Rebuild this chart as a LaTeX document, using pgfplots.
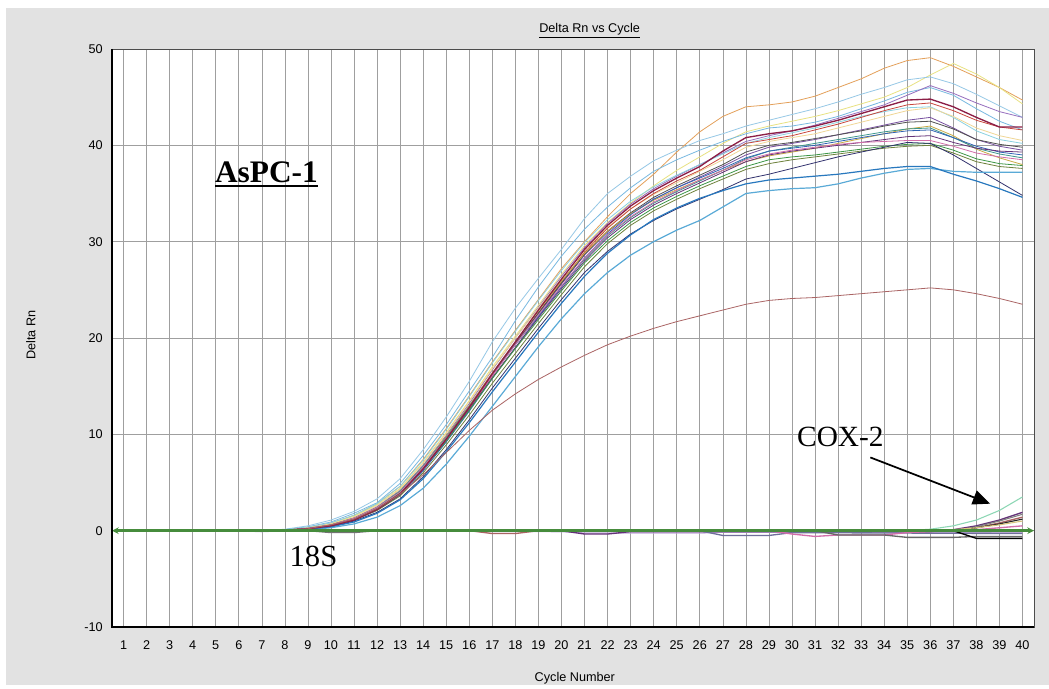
\documentclass[border=0pt]{standalone}
\usepackage{fontspec}
\setmainfont{Liberation Sans}
\newfontfamily\timesf{Liberation Serif}
\usepackage{pgfplots}
\pgfplotsset{compat=1.18}
\usetikzlibrary{arrows.meta, calc, backgrounds}

\definecolor{bg}{RGB}{226,226,226}
\definecolor{cOrange}{RGB}{228,160,90}
\definecolor{cYellow}{RGB}{232,226,130}
\definecolor{cLBlueA}{RGB}{150,200,230}
\definecolor{cLBlueB}{RGB}{120,185,225}
\definecolor{cPurple}{RGB}{150,110,190}
\definecolor{cMaroon}{RGB}{140,30,70}
\definecolor{cRed}{RGB}{200,70,60}
\definecolor{cPale}{RGB}{240,215,150}
\definecolor{cViolet}{RGB}{120,80,160}
\definecolor{cDark}{RGB}{80,80,80}
\definecolor{cTeal}{RGB}{60,150,140}
\definecolor{cBlue}{RGB}{50,100,180}
\definecolor{cDPurple}{RGB}{100,50,120}
\definecolor{cGreen}{RGB}{60,150,70}
\definecolor{cOlive}{RGB}{110,130,60}
\definecolor{cPink}{RGB}{210,110,170}
\definecolor{cNavy}{RGB}{50,50,110}
\definecolor{cSky}{RGB}{90,170,215}
\definecolor{cSteel}{RGB}{40,120,190}
\definecolor{cBrown}{RGB}{170,100,100}
\definecolor{cCyan}{RGB}{140,210,225}
\definecolor{cGold}{RGB}{200,170,70}
\definecolor{cMint}{RGB}{140,215,180}
\definecolor{cThr}{RGB}{70,140,60}

% text with a thick rule under it
\newcommand{\thickul}[1]{\setbox0\hbox{#1}\copy0\llap{\rule[-3.2pt]{\wd0}{1.3pt}}}

\begin{document}
\begin{tikzpicture}
\begin{axis}[
    scale only axis,
    width=691.5pt, height=433.5pt,
    xmin=0.5, xmax=40.5,
    ymin=-10, ymax=50,
    xtick={1,...,40},
    ytick={-10,0,10,20,30,40,50},
    grid=major,
    major grid style={gray!75, line width=0.45pt},
    major tick length=0pt,
    axis line style={black!70, line width=0.6pt},
    axis background/.style={fill=white},
    /pgf/number format/assume math mode=true,
    ticklabel style={font=\fontsize{9.5}{10}\selectfont},
    xticklabel style={yshift=-6.5pt},
    yticklabel style={xshift=-3.5pt},
    title={\underline{Delta Rn vs Cycle}},
    title style={at={(rel axis cs:0.518,1)}, anchor=center, yshift=7.5pt, font=\fontsize{9.5}{10}\selectfont},
    xlabel={Cycle Number},
    xlabel style={at={(axis description cs:0.502,-0.0882)}, anchor=center, font=\fontsize{9.5}{10}\selectfont},
    ylabel={Delta Rn},
    ylabel style={at={(axis description cs:-0.0879,0.505)}, anchor=center, font=\fontsize{9.5}{10}\selectfont},
    clip mode=individual,
    every axis plot/.append style={line width=0.6pt},
]
\coordinate (ll) at (rel axis cs:0,0);
\coordinate (ur) at (rel axis cs:1,1);

% 18S curves
\addplot[cOrange] coordinates {(1,0)(7,0)(8,0.1)(9,0.3)(10,0.8)(11,1.6)(12,2.8)(13,4.6)(14,7.4)(15,10.6)(16,14.0)(17,17.5)(18,20.8)(19,24.0)(20,27.2)(21,30.0)(22,32.6)(23,35.0)(24,37.0)(25,39.3)(26,41.4)(27,43.0)(28,44.0)(29,44.2)(30,44.5)(31,45.1)(32,46.0)(33,46.9)(34,48.0)(35,48.8)(36,49.1)(37,48.2)(38,47.1)(39,46.0)(40,44.7)};
\addplot[cYellow] coordinates {(1,0)(7,0)(8,0.05)(9,0.3)(10,0.7)(11,1.5)(12,2.7)(13,4.4)(14,7.1)(15,10.2)(16,13.5)(17,17.0)(18,20.2)(19,23.4)(20,26.6)(21,29.6)(22,32.0)(23,34.0)(24,35.8)(25,37.4)(26,38.8)(27,40.2)(28,41.4)(29,42.0)(30,42.5)(31,43.0)(32,43.6)(33,44.3)(34,45.0)(35,46.0)(36,47.3)(37,48.5)(38,47.4)(39,46.0)(40,44.3)};
\addplot[cLBlueA] coordinates {(1,0)(7,0)(8,0.15)(9,0.5)(10,1.1)(11,2.0)(12,3.3)(13,5.4)(14,8.4)(15,11.8)(16,15.5)(17,19.6)(18,23.1)(19,26.2)(20,29.2)(21,32.4)(22,35.0)(23,36.8)(24,38.4)(25,39.5)(26,40.5)(27,41.2)(28,42.0)(29,42.6)(30,43.2)(31,43.8)(32,44.5)(33,45.3)(34,46.0)(35,46.8)(36,47.1)(37,46.4)(38,45.3)(39,44.1)(40,42.9)};
\addplot[cLBlueB] coordinates {(1,0)(7,0)(8,0.1)(9,0.4)(10,0.9)(11,1.8)(12,2.9)(13,4.9)(14,7.8)(15,11.0)(16,14.5)(17,18.0)(18,21.8)(19,25.3)(20,28.5)(21,31.3)(22,33.6)(23,35.6)(24,37.3)(25,38.5)(26,39.5)(27,40.4)(28,41.2)(29,41.8)(30,42.0)(31,42.4)(32,43.0)(33,43.8)(34,44.6)(35,45.5)(36,46.0)(37,45.2)(38,43.8)(39,42.5)(40,41.6)};
\addplot[cPurple] coordinates {(1,0)(7,0)(8,0.05)(9,0.25)(10,0.6)(11,1.3)(12,2.5)(13,4.2)(14,6.8)(15,9.9)(16,13.2)(17,16.7)(18,20.0)(19,23.2)(20,26.4)(21,29.4)(22,31.9)(23,33.9)(24,35.5)(25,36.8)(26,38.0)(27,39.2)(28,40.4)(29,41.0)(30,41.5)(31,42.1)(32,42.8)(33,43.5)(34,44.2)(35,45.2)(36,46.2)(37,45.4)(38,44.4)(39,43.5)(40,42.9)};
\addplot[cCyan] coordinates {(1,0)(7,0)(8,0.1)(9,0.35)(10,0.8)(11,1.6)(12,2.8)(13,4.6)(14,7.3)(15,10.5)(16,13.9)(17,17.4)(18,20.7)(19,23.9)(20,27.0)(21,29.9)(22,32.3)(23,34.2)(24,35.7)(25,36.9)(26,38.0)(27,39.1)(28,40.2)(29,40.8)(30,41.3)(31,41.8)(32,42.4)(33,43.0)(34,43.5)(35,43.9)(36,44.0)(37,42.9)(38,41.5)(39,40.6)(40,40.2)};
\addplot[cPale] coordinates {(1,0)(7,0)(8,0.05)(9,0.3)(10,0.7)(11,1.4)(12,2.6)(13,4.3)(14,7.0)(15,10.1)(16,13.4)(17,16.8)(18,20.0)(19,23.1)(20,26.2)(21,29.1)(22,31.5)(23,33.4)(24,34.9)(25,36.1)(26,37.3)(27,38.5)(28,39.8)(29,40.4)(30,40.8)(31,41.2)(32,41.8)(33,42.4)(34,43.0)(35,43.6)(36,43.9)(37,43.0)(38,41.8)(39,41.0)(40,40.5)};
\addplot[cRed] coordinates {(1,0)(7,0)(8,0.05)(9,0.2)(10,0.5)(11,1.2)(12,2.3)(13,3.9)(14,6.5)(15,9.5)(16,12.7)(17,16.1)(18,19.4)(19,22.6)(20,25.8)(21,28.9)(22,31.4)(23,33.4)(24,35.0)(25,36.3)(26,37.4)(27,38.8)(28,40.2)(29,40.6)(30,41.0)(31,41.6)(32,42.2)(33,42.9)(34,43.6)(35,44.2)(36,44.4)(37,43.6)(38,42.6)(39,41.9)(40,41.6)};
\addplot[cViolet] coordinates {(1,0)(7,0)(8,0.05)(9,0.2)(10,0.5)(11,1.2)(12,2.3)(13,3.9)(14,6.5)(15,9.6)(16,12.8)(17,16.2)(18,19.4)(19,22.5)(20,25.6)(21,28.6)(22,31.0)(23,32.9)(24,34.4)(25,35.6)(26,36.7)(27,37.8)(28,39.0)(29,39.8)(30,40.2)(31,40.6)(32,41.1)(33,41.6)(34,42.1)(35,42.6)(36,42.9)(37,41.8)(38,40.6)(39,39.9)(40,39.5)};
\addplot[cDark] coordinates {(1,0)(7,0)(8,0.05)(9,0.2)(10,0.6)(11,1.3)(12,2.4)(13,4.0)(14,6.6)(15,9.6)(16,12.9)(17,16.3)(18,19.5)(19,22.6)(20,25.7)(21,28.7)(22,31.1)(23,33.0)(24,34.6)(25,35.8)(26,36.9)(27,38.0)(28,39.3)(29,40.0)(30,40.3)(31,40.7)(32,41.1)(33,41.5)(34,42.0)(35,42.4)(36,42.5)(37,41.7)(38,40.6)(39,40.1)(40,39.8)};
\addplot[cGold] coordinates {(1,0)(7,0)(8,0.05)(9,0.25)(10,0.6)(11,1.3)(12,2.4)(13,4.1)(14,6.7)(15,9.8)(16,13.0)(17,16.4)(18,19.6)(19,22.8)(20,25.9)(21,28.8)(22,31.1)(23,32.9)(24,34.3)(25,35.4)(26,36.4)(27,37.4)(28,38.3)(29,38.9)(30,39.3)(31,39.7)(32,40.2)(33,40.7)(34,41.2)(35,41.7)(36,42.0)(37,41.0)(38,39.6)(39,38.7)(40,38.0)};
\addplot[cTeal] coordinates {(1,0)(7,0)(8,0.05)(9,0.25)(10,0.6)(11,1.3)(12,2.4)(13,4.1)(14,6.7)(15,9.7)(16,12.9)(17,16.2)(18,19.3)(19,22.3)(20,25.3)(21,28.2)(22,30.6)(23,32.5)(24,34.0)(25,35.2)(26,36.3)(27,37.4)(28,38.6)(29,39.4)(30,39.8)(31,40.2)(32,40.6)(33,41.0)(34,41.4)(35,41.7)(36,41.8)(37,40.8)(38,39.7)(39,39.1)(40,38.7)};
\addplot[cBlue] coordinates {(1,0)(7,0)(8,0.05)(9,0.2)(10,0.5)(11,1.1)(12,2.1)(13,3.7)(14,6.2)(15,9.2)(16,12.4)(17,15.8)(18,19.0)(19,22.2)(20,25.3)(21,28.3)(22,30.8)(23,32.8)(24,34.4)(25,35.6)(26,36.6)(27,37.6)(28,38.7)(29,39.4)(30,39.7)(31,40.0)(32,40.4)(33,40.8)(34,41.2)(35,41.5)(36,41.6)(37,40.8)(38,39.9)(39,39.3)(40,39.0)};
\addplot[cDPurple] coordinates {(1,0)(7,0)(8,0.05)(9,0.2)(10,0.5)(11,1.2)(12,2.3)(13,3.9)(14,6.4)(15,9.4)(16,12.6)(17,15.9)(18,19.0)(19,22.1)(20,25.1)(21,28.0)(22,30.4)(23,32.3)(24,33.8)(25,35.0)(26,36.1)(27,37.2)(28,38.3)(29,39.0)(30,39.4)(31,39.7)(32,40.0)(33,40.3)(34,40.6)(35,40.9)(36,41.0)(37,40.3)(38,39.7)(39,39.4)(40,39.3)};
\addplot[cGreen] coordinates {(1,0)(7,0)(8,0.05)(9,0.2)(10,0.5)(11,1.2)(12,2.3)(13,3.9)(14,6.4)(15,9.3)(16,12.5)(17,15.8)(18,18.9)(19,21.9)(20,24.9)(21,27.8)(22,30.1)(23,32.0)(24,33.5)(25,34.7)(26,35.8)(27,36.8)(28,37.8)(29,38.5)(30,38.8)(31,39.0)(32,39.3)(33,39.6)(34,39.9)(35,40.1)(36,40.2)(37,39.5)(38,38.6)(39,38.1)(40,37.9)};
\addplot[cOlive] coordinates {(1,0)(7,0)(8,0.05)(9,0.2)(10,0.5)(11,1.1)(12,2.1)(13,3.6)(14,6.0)(15,8.9)(16,12.0)(17,15.3)(18,18.4)(19,21.5)(20,24.5)(21,27.4)(22,29.8)(23,31.7)(24,33.2)(25,34.4)(26,35.5)(27,36.5)(28,37.5)(29,38.1)(30,38.5)(31,38.8)(32,39.1)(33,39.4)(34,39.7)(35,39.9)(36,40.0)(37,39.2)(38,38.3)(39,37.8)(40,37.6)};
\addplot[cPink] coordinates {(1,0)(7,0)(8,0.05)(9,0.25)(10,0.6)(11,1.3)(12,2.4)(13,4.0)(14,6.6)(15,9.6)(16,12.8)(17,16.1)(18,19.3)(19,22.4)(20,25.4)(21,28.3)(22,30.7)(23,32.6)(24,34.1)(25,35.3)(26,36.4)(27,37.4)(28,38.5)(29,39.1)(30,39.5)(31,39.8)(32,40.1)(33,40.3)(34,40.4)(35,40.5)(36,40.5)(37,39.9)(38,39.2)(39,38.8)(40,38.5)};
\addplot[cNavy] coordinates {(1,0)(7,0)(8,0.05)(9,0.15)(10,0.4)(11,1.0)(12,1.9)(13,3.3)(14,5.6)(15,8.4)(16,11.5)(17,14.8)(18,17.9)(19,21.0)(20,24.0)(21,26.8)(22,29.0)(23,30.8)(24,32.2)(25,33.4)(26,34.4)(27,35.4)(28,36.5)(29,37.0)(30,37.6)(31,38.2)(32,38.8)(33,39.3)(34,39.8)(35,40.3)(36,40.2)(37,39.0)(38,37.6)(39,36.2)(40,34.8)};
\addplot[cSky, line width=0.9pt] coordinates {(1,0)(8,0)(9,0.1)(10,0.3)(11,0.7)(12,1.4)(13,2.6)(14,4.4)(15,6.9)(16,9.8)(17,12.9)(18,16.0)(19,19.1)(20,22.0)(21,24.6)(22,26.8)(23,28.6)(24,30.0)(25,31.2)(26,32.2)(27,33.6)(28,35.0)(29,35.3)(30,35.5)(31,35.6)(32,36.0)(33,36.6)(34,37.1)(35,37.5)(36,37.6)(37,37.3)(38,37.2)(39,37.2)(40,37.2)};
\addplot[cSteel, line width=0.9pt] coordinates {(1,0)(7,0)(8,0.05)(9,0.15)(10,0.4)(11,0.9)(12,1.8)(13,3.2)(14,5.4)(15,8.2)(16,11.2)(17,14.4)(18,17.5)(19,20.6)(20,23.6)(21,26.4)(22,28.8)(23,30.7)(24,32.3)(25,33.5)(26,34.5)(27,35.3)(28,36.0)(29,36.4)(30,36.6)(31,36.8)(32,37.0)(33,37.3)(34,37.6)(35,37.8)(36,37.8)(37,37.0)(38,36.3)(39,35.5)(40,34.6)};
\addplot[cMaroon, line width=1pt] coordinates {(1,0)(7,0)(8,0.05)(9,0.2)(10,0.5)(11,1.1)(12,2.2)(13,3.8)(14,6.4)(15,9.5)(16,12.8)(17,16.3)(18,19.6)(19,22.9)(20,26.1)(21,29.2)(22,31.7)(23,33.7)(24,35.3)(25,36.6)(26,37.8)(27,39.4)(28,40.8)(29,41.2)(30,41.5)(31,42.0)(32,42.6)(33,43.3)(34,44.0)(35,44.7)(36,44.8)(37,44.0)(38,42.9)(39,41.9)(40,41.9)};
\addplot[cBrown] coordinates {(1,0)(7,0)(8,0.05)(9,0.2)(10,0.6)(11,1.2)(12,2.3)(13,3.8)(14,5.8)(15,8.1)(16,10.4)(17,12.5)(18,14.2)(19,15.7)(20,17.0)(21,18.2)(22,19.3)(23,20.2)(24,21.0)(25,21.7)(26,22.3)(27,22.9)(28,23.5)(29,23.9)(30,24.1)(31,24.2)(32,24.4)(33,24.6)(34,24.8)(35,25.0)(36,25.2)(37,25.0)(38,24.6)(39,24.1)(40,23.5)};

% COX-2 and baseline curves
\addplot[cPurple!60, line width=1pt] coordinates {(1,0)(6,0)(7,-0.1)(8,0)(20,-0.1)(21,-0.25)(26,-0.25)(27,-0.15)(40,-0.15)};
\addplot[cDark!80, line width=1pt] coordinates {(1,0)(9,0)(10,-0.2)(11,-0.2)(12,0)(40,0)};
\addplot[cBrown, line width=1pt] coordinates {(1,0)(16,0)(17,-0.3)(18,-0.3)(19,0)(37,0)(38,0.3)(39,0.8)(40,1.4)};
\addplot[cDPurple, line width=1pt] coordinates {(1,0)(20,0)(21,-0.35)(22,-0.35)(23,-0.1)(36,-0.1)(37,0.1)(38,0.5)(39,1.1)(40,1.9)};
\addplot[cNavy!70, line width=1pt] coordinates {(1,0)(26,0)(27,-0.5)(29,-0.5)(30,-0.2)(40,-0.3)};
\addplot[cPink, line width=1pt] coordinates {(1,0)(29,0)(30,-0.35)(31,-0.6)(32,-0.45)(34,-0.45)(35,-0.2)(38,0.1)(39,0.3)(40,0.5)};
\addplot[black!60, line width=1pt] coordinates {(1,0)(31,0)(32,-0.45)(34,-0.45)(35,-0.7)(37,-0.7)(38,-0.6)(40,-0.6)};
\addplot[black, line width=1pt] coordinates {(1,0)(37,0)(38,-0.8)(40,-0.8)};
\addplot[gray, line width=0.8pt] coordinates {(1,0)(37,0)(38,0.4)(39,1.0)(40,1.7)};
\addplot[black!85, line width=0.8pt] coordinates {(1,0)(37,0)(38,0.3)(39,0.7)(40,1.2)};
\addplot[cGold!70, line width=0.8pt] coordinates {(1,0)(36,0)(37,0.1)(38,0.3)(39,0.6)(40,1.0)};
\addplot[cMint, line width=0.8pt] coordinates {(1,0)(35,0)(36,0.15)(37,0.5)(38,1.1)(39,2.1)(40,3.5)};

% threshold line
\addplot[cThr, line width=1.8pt, {Stealth[length=5pt,width=5pt]}-{Stealth[length=5pt,width=5pt]}] coordinates {(0.5,0) (40.5,0)};

% thick left and bottom axis lines
\draw[black, line width=1.5pt] (rel axis cs:0,1) -- (rel axis cs:0,0) -- (rel axis cs:1,0);

% annotations
\node[font=\timesf\bfseries\fontsize{23.5}{24}\selectfont] at (axis cs:7.2,37) {\thickul{AsPC-1}};
\node[font=\timesf\fontsize{23}{24}\selectfont] at (axis cs:9.24,-2.7) {18S};
\node[font=\timesf\fontsize{22}{24}\selectfont] at (axis cs:32.1,9.7) {COX-2};
\draw[black, line width=1.3pt, -{Triangle[length=13pt,width=11pt]}] (axis cs:33.4,7.6) -- (axis cs:38.6,2.8);
\end{axis}
\begin{scope}[on background layer]
\fill[white] ($(ll)+(-84pt,-46.5pt)$) rectangle ($(ur)+(11.25pt,36.75pt)$);
\fill[bg] ($(ll)+(-79.5pt,-43.5pt)$) rectangle ($(ur)+(11.25pt,30.75pt)$);
\end{scope}
\end{tikzpicture}
\end{document}
